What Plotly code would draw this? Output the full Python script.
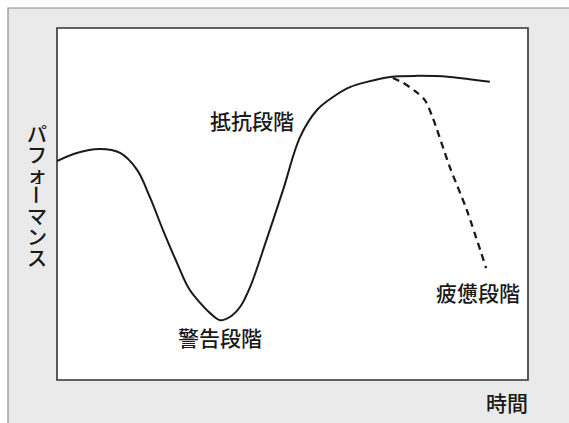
import plotly.graph_objects as go

# Main curve (time, performance)
time_main = [0.0, 0.42, 0.91, 1.34, 1.70, 1.97, 2.25, 2.55, 2.80, 3.04, 3.25, 3.46, 3.67, 3.89,
             4.10, 4.46, 4.80, 5.16, 5.52, 5.86, 6.22, 6.58, 7.07, 7.64, 8.34, 9.19]
perf_main = [6.22, 6.45, 6.56, 6.45, 5.97, 5.20, 4.26, 3.32, 2.60, 2.19, 1.90, 1.70, 1.79, 2.08,
             2.64, 4.03, 5.40, 6.90, 7.67, 8.04, 8.32, 8.47, 8.61, 8.64, 8.61, 8.47]

# Exhaustion branch (dashed)
time_exh = [7.13, 7.35, 7.60, 7.81, 7.98, 8.34, 8.70, 9.11]
perf_exh = [8.58, 8.44, 8.21, 7.95, 7.44, 6.05, 4.83, 3.18]

y_label_chars = ["パ", "フ", "ォ", "ー", "マ", "ン", "ス"]
stage_labels = ["抵抗段階", "警告段階", "疲憊段階"]
x_label = "時間"

FONT = "Noto Sans CJK JP"
INK = "#1a1a1a"

fig = go.Figure()
fig.add_trace(go.Scatter(x=time_main, y=perf_main, mode="lines",
                         line=dict(color=INK, width=2, shape="spline", smoothing=1.0),
                         hoverinfo="skip"))
fig.add_trace(go.Scatter(x=time_exh, y=perf_exh, mode="lines",
                         line=dict(color=INK, width=2.3, dash="7px,5px", shape="spline", smoothing=0.8),
                         hoverinfo="skip"))

W, H = 569, 423
L, R, T, B = 57, 528, 28, 380
pw, ph = R - L, B - T

def px(x):
    return (x - L) / pw

def py(y):
    return (B - y) / ph

shapes = [
    dict(type="rect", xref="paper", yref="paper", layer="below",
         x0=px(8), x1=px(600), y0=py(460), y1=py(8),
         fillcolor="#eaeaea", line=dict(color="#8a8a8a", width=1.2)),
    dict(type="rect", xref="paper", yref="paper", layer="below",
         x0=0, x1=1, y0=0, y1=1,
         fillcolor="white", line=dict(color="#333333", width=1.6)),
]

annotations = []
stage_pos = [(252, 120), (220, 337), (478, 292)]
for txt, (cx, cy) in zip(stage_labels, stage_pos):
    annotations.append(dict(text=txt, x=px(cx), y=py(cy), xref="paper", yref="paper",
                            showarrow=False, xanchor="center", yanchor="middle",
                            font=dict(family=FONT, size=21, color=INK, weight=500)))
annotations.append(dict(text=x_label, x=px(507), y=py(402), xref="paper", yref="paper",
                        showarrow=False, xanchor="center", yanchor="middle",
                        font=dict(family=FONT, size=21, color=INK, weight=500)))
for i, ch in enumerate(y_label_chars):
    cy = 133 + i * 20.6
    annotations.append(dict(text=ch, x=px(37), y=py(cy), xref="paper", yref="paper",
                            showarrow=False, xanchor="center", yanchor="middle",
                            height=20, borderpad=0,
                            textangle=90 if ch == "ー" else 0,
                            font=dict(family=FONT, size=20, color=INK, weight=500)))

fig.update_layout(
    width=W, height=H,
    margin=dict(l=L, r=W - R, t=T, b=H - B, pad=0),
    paper_bgcolor="white", plot_bgcolor="rgba(0,0,0,0)",
    showlegend=False,
    xaxis=dict(range=[0, 10], visible=False, fixedrange=True),
    yaxis=dict(range=[0, 10], visible=False, fixedrange=True),
    shapes=shapes, annotations=annotations,
)

fig.write_html("out.html", config={"displayModeBar": False},
               post_script="document.body.style.margin='0';document.body.style.overflow='hidden';")
